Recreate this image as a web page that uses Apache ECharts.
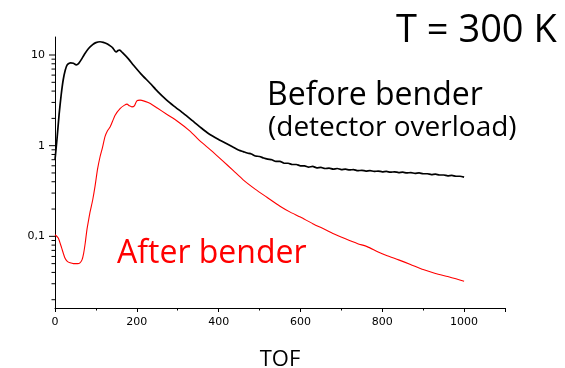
<!DOCTYPE html>
<html>
<head>
<meta charset="utf-8">
<script src="https://cdn.jsdelivr.net/npm/echarts@6/dist/echarts.min.js"></script>
<style>html,body{margin:0;padding:0;background:#fff}#c{width:565px;height:368px}</style>
</head>
<body>
<div id="c"></div>
<script>
// TOF values and counts for the "Before bender" curve (black)
const beforeTof = [0,5,10,15,20,25,30,38,45,52,58,65,72,82,92,100,110,118,127,135,141,147,150,154,158,165,180,192,210,233,250,273,290,314,335,355,375,400,420,436,
450,460,470,480,490,500,510,520,530,540,550,560,570,580,590,600,610,620,630,640,650,660,670,680,690,700,710,720,730,740,750,760,770,780,790,800,810,820,830,840,850,860,870,880,890,900,910,920,930,940,950,960,970,980,990,1000];
const beforeVal = [0.70,1.2,2.2,3.6,5.3,6.8,7.8,8.2,8.1,7.8,8.1,9.0,10.2,11.8,13.0,13.7,14.0,13.8,13.3,12.6,12.0,11.0,10.8,11.2,11.3,10.6,9.0,7.7,6.2,4.85,4.0,3.18,2.75,2.27,1.9,1.6,1.36,1.17,1.05,0.96,
0.89,0.86,0.83,0.81,0.77,0.76,0.73,0.71,0.70,0.67,0.67,0.64,0.64,0.62,0.62,0.60,0.60,0.58,0.59,0.57,0.575,0.56,0.565,0.55,0.56,0.545,0.55,0.54,0.545,0.53,0.535,0.525,0.53,0.52,0.525,0.515,0.52,0.51,0.515,0.505,0.51,0.50,0.505,0.495,0.50,0.49,0.49,0.48,0.485,0.475,0.475,0.465,0.47,0.46,0.46,0.45];

// TOF values and counts for the "After bender" curve (red)
const afterTof = [0,8,16,24,30,37,45,55,61,66,70,74,78,82,86,92,98,104,110,116,122,128,135,147,159,170,176,182,188,194,200,208,220,233,250,273,300,330,355,380,410,436,460,490,518,550,575,600,630,660,681,710,740,763,790,812,840,869,900,930,960,980,1000];
const afterVal = [0.104,0.096,0.075,0.058,0.053,0.051,0.050,0.050,0.051,0.055,0.065,0.085,0.118,0.15,0.188,0.25,0.36,0.55,0.75,0.95,1.25,1.45,1.62,2.17,2.57,2.80,2.87,2.75,2.68,2.75,3.12,3.18,3.08,2.92,2.6,2.22,1.85,1.45,1.12,0.90,0.68,0.53,0.42,0.33,0.27,0.215,0.185,0.163,0.138,0.119,0.107,0.094,0.083,0.077,0.067,0.061,0.055,0.049,0.043,0.039,0.036,0.034,0.032];

// Axis ticks and labels
const yMajorTicks = [0.1, 1, 10];
const yMinorTicks = [0.02,0.03,0.04,0.05,0.06,0.07,0.08,0.09,0.2,0.3,0.4,0.5,0.6,0.7,0.8,0.9,2,3,4,5,6,7,8,9];
const yTickLabels = {'0.1':'0,1','1':'1','10':'10'};

const chart = echarts.init(document.getElementById('c'), null, {renderer:'canvas'});

function zip(a,b){return a.map((v,i)=>[v,b[i]]);}
const tickData = yMajorTicks.map(v=>[0,v,1]).concat(yMinorTicks.map(v=>[0,v,0]));

chart.setOption({
  animation:false,
  backgroundColor:'#fff',
  grid:{left:55,right:60,top:37,bottom:60,containLabel:false,outerBoundsMode:'none'},
  xAxis:{
    type:'value', min:0, max:1100, interval:200,
    axisLine:{lineStyle:{color:'#000',width:1}},
    axisTick:{show:true,inside:false,length:4,lineStyle:{color:'#000'}},
    minorTick:{show:true,splitNumber:2,length:2.5,lineStyle:{color:'#000'}},
    splitLine:{show:false},
    axisLabel:{color:'#000',fontFamily:'DejaVu Sans',fontSize:11,margin:9,
      formatter:function(v){return v===1100?'':String(v);}},
    name:'TOF', nameLocation:'middle', nameGap:41,
    nameTextStyle:{color:'#000',fontFamily:'Open Sans',fontSize:22}
  },
  yAxis:{
    type:'log', logBase:10, min:0.0162, max:15.8,
    axisLine:{show:true,lineStyle:{color:'#000',width:1}},
    axisTick:{show:false},
    splitLine:{show:false},
    axisLabel:{color:'#000',fontFamily:'DejaVu Sans',fontSize:11,margin:10,
      showMinLabel:false, showMaxLabel:false,
      formatter:function(v){
        const k = String(Math.round(v*1000)/1000);
        return yTickLabels[k] !== undefined ? yTickLabels[k] : '';
      }}
  },
  series:[
    {
      type:'custom', clip:false, silent:true, z:5,
      renderItem:function(params, api){
        const p = api.coord([api.value(0), api.value(1)]);
        const len = api.value(2) ? 6 : 3.5;
        return {type:'line', shape:{x1:p[0]-len,y1:p[1],x2:p[0],y2:p[1]}, style:{stroke:'#000',lineWidth:1}};
      },
      data:tickData
    },
    {
      name:'Before bender', type:'line', showSymbol:false, symbol:'none', smooth:0.2,
      lineStyle:{color:'#000',width:1.7}, data:zip(beforeTof,beforeVal)
    },
    {
      name:'After bender', type:'line', showSymbol:false, symbol:'none', smooth:0.2,
      lineStyle:{color:'#ff0000',width:1.1}, data:zip(afterTof,afterVal)
    }
  ],
  graphic:[
    {type:'text', x:396, y:31.5, style:{text:'T = 300 K', fill:'#000', font:'38px "Open Sans"', verticalAlign:'middle'}},
    {type:'text', x:267, y:95.4, style:{text:'Before bender', fill:'#000', font:'32px "Open Sans"', verticalAlign:'middle'}},
    {type:'text', x:268, y:128.5, style:{text:'(detector overload)', fill:'#000', font:'28px "Open Sans"', verticalAlign:'middle'}},
    {type:'text', x:117, y:253.7, style:{text:'After bender', fill:'#ff0000', font:'32px "Open Sans"', verticalAlign:'middle'}}
  ]
});
</script>
</body>
</html>
